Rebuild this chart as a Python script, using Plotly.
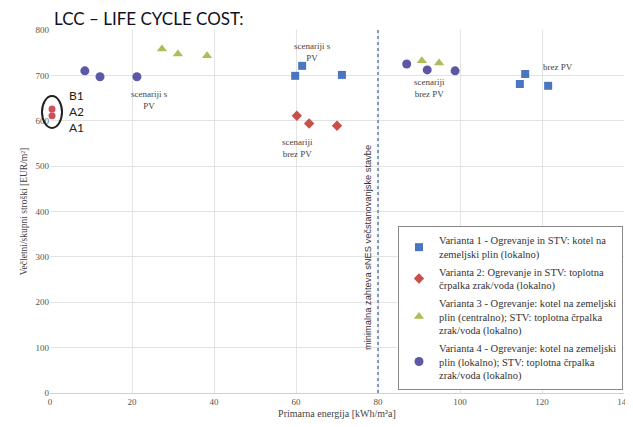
import plotly.graph_objects as go

# ---- data ----
v1_x = [59.8, 61.5, 71.2, 114.6, 115.9, 121.5]
v1_y = [699, 721, 701, 681, 703, 677]
v2_x = [60.2, 63.2, 70.0]
v2_y = [611, 594, 589]
v3_x = [27.3, 31.2, 38.3, 90.7, 94.9]
v3_y = [758, 747, 743, 732, 727]
v4_x = [8.5, 12.2, 21.2, 87.0, 92.0, 98.8]
v4_y = [710, 697, 697, 725, 712, 710]
ref_x = [0.5, 0.5]
ref_y = [626, 611]

names = [
    "Varianta 1 - Ogrevanje in STV: kotel na<br>zemeljski plin (lokalno)",
    "Varianta 2: Ogrevanje in STV: toplotna<br>črpalka zrak/voda (lokalno)",
    "Varianta 3 - Ogrevanje: kotel na zemeljski<br>plin (centralno); STV: toplotna črpalka<br>zrak/voda (lokalno)",
    "Varianta 4 - Ogrevanje: kotel na zemeljski<br>plin (lokalno); STV: toplotna črpalka<br>zrak/voda (lokalno)",
]
x_ticks = [0, 20, 40, 60, 80, 100, 120, 140]
y_ticks = [0, 100, 200, 300, 400, 500, 600, 700, 800]
limit_x = 80

serif = "Liberation Serif"
fig = go.Figure()
series = [
    (v1_x, v1_y, "square", "#4a76c0", 8),
    (v2_x, v2_y, "diamond", "#c8504a", 8),
    (v3_x, v3_y, "triangle-up", "#a9bf57", 9),
    (v4_x, v4_y, "circle", "#5d58a6", 9),
]
for i, (xs, ys, sym, col, sz) in enumerate(series):
    fig.add_trace(go.Scatter(x=xs, y=ys, mode="markers", name=names[i],
                             legendgroup=f"g{i}",
                             marker=dict(symbol=sym, color=col, size=sz)))
fig.add_trace(go.Scatter(x=ref_x, y=ref_y, mode="markers", showlegend=False,
                         marker=dict(symbol="circle", color="#d0505a", size=7),
                         cliponaxis=False))

fig.add_vline(x=limit_x, line=dict(color="#7f9cc0", width=2, dash="dot"))

ann_font = dict(family=serif, size=9, color="#444")
for tx, ty, txt in [(24.3, 646, "scenariji s<br>PV"), (64, 752, "scenariji s<br>PV"),
                    (60.4, 540, "scenariji<br>brez PV"), (92.5, 672, "scenariji<br>brez PV"),
                    (124, 718, "brez PV")]:
    fig.add_annotation(x=tx, y=ty, text=txt, showarrow=False, font=ann_font,
                       xanchor="center", yanchor="middle")

fig.add_annotation(x=77.6, y=320, text="minimalna zahteva sNES večstanovanjske stavbe",
                   textangle=-90, showarrow=False, xanchor="center", yanchor="middle",
                   font=dict(family="Liberation Sans", size=9.3, color="#333"))

PW, PH = 574, 363  # plot area in reference pixels (left 50, top 30)


def px(xp):
    return (xp - 50) / PW


def py(yp):
    return (393 - yp) / PH


fig.add_annotation(xref="paper", yref="paper", x=px(52), y=py(18), xanchor="left",
                   yanchor="middle", text="LCC – LIFE CYCLE COST:", showarrow=False,
                   font=dict(family="Lato", size=17, color="#101020"))

for lab, yy in [("B1", 96), ("A2", 112), ("A1", 128)]:
    fig.add_annotation(xref="paper", yref="paper", x=px(67), y=py(yy),
                       xanchor="left", yanchor="middle", text=lab, showarrow=False,
                       font=dict(family="Lato", size=12, color="#222"))

fig.add_shape(type="circle", xref="paper", yref="paper",
              x0=px(42), x1=px(62), y0=py(128), y1=py(96),
              line=dict(color="#222", width=2))

fig.update_layout(
    width=625, height=419,
    margin=dict(l=42, r=9, t=22, b=34),
    paper_bgcolor="white", plot_bgcolor="white",
    font=dict(family=serif, size=10, color="#333"),
    showlegend=True,
    legend=dict(x=px(398), y=py(226), xanchor="left", yanchor="top",
                bordercolor="#888", borderwidth=1, bgcolor="white",
                font=dict(family=serif, size=10.5, color="#333"),
                tracegroupgap=1, itemwidth=30, itemsizing="trace"),
    xaxis=dict(range=[0, 140], tickvals=x_ticks, showgrid=True, gridcolor="#e3e3e3",
               zeroline=False, showline=True, linecolor="#d0d0d0", automargin=False,
               tickfont=dict(family=serif, size=9, color="#555"),
               title=dict(text="Primarna energija [kWh/m²a]", standoff=4,
                          font=dict(family=serif, size=10, color="#444"))),
    yaxis=dict(range=[0, 800], tickvals=y_ticks, showgrid=True, gridcolor="#e3e3e3",
               zeroline=False, showline=False, automargin=False,
               tickfont=dict(family=serif, size=9, color="#555"),
               title=dict(text="Večletni/skupni stroški [EUR/m²]", standoff=6,
                          font=dict(family=serif, size=9.5, color="#444"))),
)

fig.write_html("out.html")
